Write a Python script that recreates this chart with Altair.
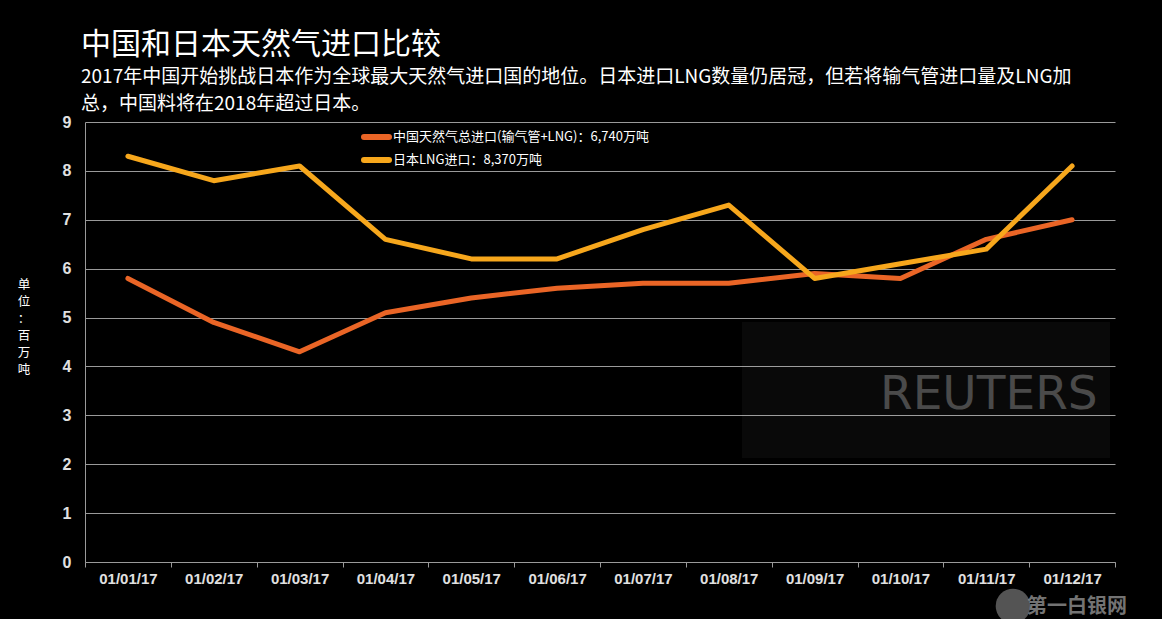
import altair as alt
import pandas as pd

months = ["01/01/17", "01/02/17", "01/03/17", "01/04/17", "01/05/17", "01/06/17",
          "01/07/17", "01/08/17", "01/09/17", "01/10/17", "01/11/17", "01/12/17"]
china = [5.8, 4.9, 4.3, 5.1, 5.4, 5.6, 5.7, 5.7, 5.9, 5.8, 6.6, 7.0]
japan = [8.3, 7.8, 8.1, 6.6, 6.2, 6.2, 6.8, 7.3, 5.8, 6.1, 6.4, 8.1]
series_names = ["中国天然气总进口(输气管+LNG)：6,740万吨", "日本LNG进口：8,370万吨"]
series_colors = ["#ea6526", "#f7a71c"]

title_text = "中国和日本天然气进口比较"
subtitle_lines = ["2017年中国开始挑战日本作为全球最大天然气进口国的地位。日本进口LNG数量仍居冠，但若将输气管进口量及LNG加",
                  "总，中国料将在2018年超过日本。"]
y_title_chars = ["单", "位", "：", "百", "万", "吨"]

rows = []
for m, c, j in zip(months, china, japan):
    rows.append({"month": m, "series": series_names[0], "value": c})
    rows.append({"month": m, "series": series_names[1], "value": j})
df = pd.DataFrame(rows)

CJK = "Noto Sans CJK SC"

x_enc = alt.X("month:O", sort=months, title=None, bandPosition=0.5,
              scale=alt.Scale(type="band", paddingInner=0, paddingOuter=0),
              axis=alt.Axis(tickBand="extent", labelAngle=0, labelFont="Liberation Sans",
                            labelFontWeight="bold", labelFontSize=15, labelColor="#e0e0e0",
                            labelPadding=4, domainColor="#9a9a9a", tickColor="#9a9a9a",
                            tickSize=5, grid=False))
y_enc = alt.Y("value:Q", title=None,
              scale=alt.Scale(domain=[0, 9], nice=False),
              axis=alt.Axis(values=list(range(10)), labelFont="Liberation Sans",
                            labelFontWeight="bold", labelFontSize=16, labelColor="#e0e0e0",
                            labelPadding=14, tickSize=0, domainColor="#9a9a9a",
                            gridColor="#9a9a9a", gridWidth=1))

one = pd.DataFrame({"k": [0]})

watermark_box = alt.Chart(one).mark_rect(fill="#ffffff", opacity=0.035).encode(
    x=alt.value(657), x2=alt.value(1025), y=alt.value(200), y2=alt.value(336))
watermark_text = alt.Chart(one).mark_text(
    text="REUTERS", font="DejaVu Sans", fontSize=47, color="#4a4a4a", align="left",
    baseline="middle").encode(x=alt.value(795), y=alt.value(273))

lines = alt.Chart(df).mark_line(strokeWidth=5, strokeCap="round", strokeJoin="round").encode(
    x=x_enc, y=y_enc,
    color=alt.Color("series:N", sort=series_names,
                    scale=alt.Scale(domain=series_names, range=series_colors),
                    legend=None),
    order=alt.Order("series:N"))

legend_layers = []
for i, (name, col) in enumerate(zip(series_names, series_colors)):
    yy = 15 + 23 * i
    legend_layers.append(alt.Chart(one).mark_rule(strokeWidth=6, strokeCap="round", color=col).encode(
        x=alt.value(279), x2=alt.value(304), y=alt.value(yy)))
    legend_layers.append(alt.Chart(one).mark_text(
        text=name, font=CJK, fontSize=13, color="#ffffff", align="left",
        baseline="middle").encode(x=alt.value(308), y=alt.value(yy)))

title = alt.Chart(one).mark_text(
    text=title_text, font=CJK, fontSize=30, color="#ffffff", align="left",
    baseline="alphabetic").encode(x=alt.value(-4), y=alt.value(-68))
subtitle = alt.Chart(one).mark_text(
    text=subtitle_lines, font=CJK, fontSize=19, lineHeight=27, color="#ffffff",
    align="left", baseline="alphabetic").encode(x=alt.value(-4), y=alt.value(-39))
ytitle = alt.Chart(one).mark_text(
    text=y_title_chars, font=CJK, fontSize=12.5, lineHeight=17, color="#ffffff",
    align="center", baseline="top").encode(x=alt.value(-61), y=alt.value(157))
site_mark = alt.Chart(one).mark_circle(size=1200, color="#777777", opacity=0.7).encode(
    x=alt.value(928), y=alt.value(484))
site_text = alt.Chart(one).mark_text(
    text="第一白银网", font=CJK, fontWeight="bold", fontSize=20, color="#9a9a9a", opacity=0.75,
    align="left", baseline="middle").encode(x=alt.value(942), y=alt.value(485))

chart = alt.layer(watermark_box, watermark_text, lines, *legend_layers, title, subtitle, ytitle,
                  site_mark, site_text).properties(
    width=1030, height=440,
    autosize=alt.AutoSizeParams(type="none"),
    padding={"left": 85, "top": 122, "right": 47, "bottom": 57},
    background="#000000",
).configure_view(stroke=None).configure_axisY(domain=True)

chart.save("out.html", embed_options={"renderer": "svg", "actions": False})
